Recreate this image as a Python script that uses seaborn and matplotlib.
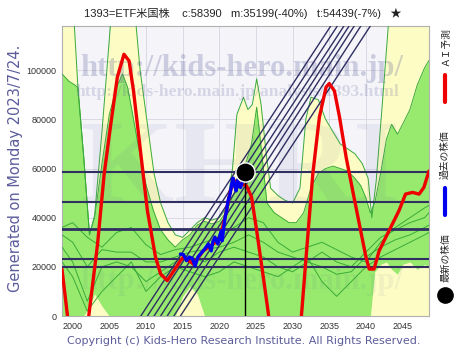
import numpy as np
import pandas as pd
import matplotlib
matplotlib.use('Agg')
import matplotlib.pyplot as plt
from matplotlib.lines import Line2D
import seaborn as sns

# ---------------- data ----------------
title_text = '1393=ETF米国株    c:58390   m:35199(-40%)   t:54439(-7%)   ★'
ylabel_text = 'Generated on Monday 2023/7/24.'
copyright_text = 'Copyright (c) Kids-Hero Research Institute. All Rights Reserved.'
legend_labels = ['ＡＩ予測', '過去の株価', '最新の株価']

x_ticks = [2000, 2005, 2010, 2015, 2020, 2025, 2030, 2035, 2040, 2045]
y_ticks = [0, 20000, 40000, 60000, 80000, 100000]

# AI forecast (red)
red_x = [1998.55, 1999.3, 2000.3, 2001.3, 2002.2, 2003.4, 2004.3, 2005.2, 2006.1, 2007.0,
         2007.7, 2008.3, 2009.25, 2010.2, 2011.3, 2012.0, 2012.9, 2013.8, 2014.7, 2015.1,
         2016.5, 2017.8, 2019.2, 2020.1, 2020.8, 2021.5, 2022.1, 2023.0, 2023.7, 2024.4,
         2025.1, 2026.0, 2026.7, 2027.6, 2029.0, 2030.3, 2031.2, 2031.84, 2032.75, 2033.65,
         2034.56, 2035.0, 2035.7, 2036.4, 2037.3, 2038.2, 2039.1, 2040.0, 2040.45, 2041.1,
         2041.8, 2042.7, 2043.6, 2044.5, 2045.4, 2046.35, 2047.25, 2047.9, 2048.6]
red_y = [19000, 0, -25000, -30000, 0, 29300, 57700, 78000, 97200, 106500,
         103800, 91600, 67200, 42800, 24000, 17100, 14400, 18400, 22500, 24000,
         21100, 26500, 29300, 32100, 40200, 50900, 55000, 53700, 53000, 48400,
         34700, 15900, 800, -25000, -40000, -25000, 0, 24000, 57700, 80900,
         93100, 94600, 91600, 80900, 64600, 50900, 37400, 24000, 19100, 19100,
         26500, 32000, 37400, 42800, 49600, 50300, 49600, 52300, 59000]

# past price (blue)
blue_x = [2014.7, 2015.1, 2015.55, 2015.9, 2016.3, 2016.7, 2017.1, 2017.5, 2017.8, 2018.2,
          2018.5, 2018.9, 2019.1, 2019.4, 2019.8, 2020.1, 2020.3, 2020.4, 2020.6, 2020.8,
          2021.0, 2021.2, 2021.5, 2021.7, 2021.9, 2022.1, 2022.3, 2022.5, 2022.7, 2022.9,
          2023.2, 2023.4, 2023.55]
blue_y = [25200, 25000, 22500, 24000, 23500, 20400, 24000, 25500, 26500, 28000,
          29300, 26500, 30000, 32100, 29300, 33000, 34700, 30600, 36000, 40200,
          43000, 46900, 50000, 53700, 56100, 53000, 50900, 55000, 53000, 52300,
          55000, 56000, 58390]

# latest price
last_x = 2023.55
last_y = 58390

# horizontal levels
h_levels = [58390, 46500, 35199, 23300, 20000]

# diagonal channel lines: year at value 0 and year at value 118000
diag_zero = [2009.3, 2010.2, 2011.1, 2012.0, 2012.9, 2013.8, 2014.7]
diag_top = [2035.2, 2036.1, 2037.0, 2037.7, 2038.4, 2039.3, 2040.6]

# yellow band (upper envelope)
yel_x = [1998.55, 2000.2, 2000.7, 2001.5, 2002.3, 2003.0, 2004.0, 2005.2, 2008.6, 2009.2,
         2010.2, 2011.1, 2012.0, 2013.0, 2014.0, 2015.0, 2016.0, 2017.0, 2018.0, 2019.0,
         2020.0, 2021.0, 2021.8, 2022.4, 2023.3, 2023.9, 2024.5, 2025.1, 2025.7, 2026.4,
         2027.0, 2028.0, 2029.0, 2030.0, 2031.0, 2031.8, 2032.5, 2033.5, 2034.5, 2035.5,
         2036.5, 2037.5, 2038.5, 2039.5, 2040.3, 2040.8, 2041.4, 2042.2, 2043.1, 2048.6]
yel_hi = [120000, 120000, 94000, 65000, 33000, 41000, 75000, 120000, 120000, 100000,
          78000, 58000, 46000, 38000, 33000, 32000, 35000, 38000, 40000, 39000,
          40000, 44000, 60000, 82000, 89000, 84000, 86000, 96500, 86000, 66000,
          52000, 49000, 47000, 46000, 52000, 80000, 89000, 88000, 80000, 75000,
          70000, 68000, 66000, 62000, 56000, 40000, 55000, 85000, 120000, 120000]

# green band (central envelope)
grn_x = [1998.55, 1999.5, 2000.3, 2000.7, 2001.5, 2002.3, 2003.0, 2004.0, 2005.0, 2006.0,
         2006.8, 2007.5, 2008.0, 2009.0, 2010.0, 2011.0, 2012.0, 2013.0, 2014.0, 2015.0,
         2016.0, 2017.0, 2018.0, 2019.0, 2020.0, 2021.0, 2022.0, 2023.0, 2023.8, 2024.4,
         2025.1, 2025.8, 2026.5, 2027.5, 2028.5, 2029.5, 2030.5, 2031.5, 2032.5, 2033.5,
         2034.5, 2035.5, 2036.5, 2037.5, 2038.5, 2039.3, 2040.0, 2040.6, 2041.2, 2042.0,
         2042.8, 2043.5, 2044.3, 2045.0, 2046.0, 2047.0, 2048.0, 2048.6]
grn_hi = [98500, 95500, 94000, 93000, 65000, 33000, 40000, 62000, 82000, 93000,
          98500, 93000, 85000, 68500, 53500, 43000, 35000, 31000, 28000, 31000,
          33000, 37000, 38500, 37500, 38500, 42500, 50000, 57000, 64000, 70000,
          85000, 66000, 46000, 42000, 40000, 38000, 38000, 42000, 52000, 58000,
          60000, 61000, 60000, 59000, 56000, 53000, 48000, 42000, 46000, 58000,
          72000, 78000, 74000, 78000, 84000, 94000, 101000, 104000]
grn_lo = [0, 0, 0, 0, 0, 4000, 9000, 4000, 0, 0,
          0, 0, 0, 0, 0, 0, 0, 0, 0, 8000,
          12000, 9000, 0, 0, 0, 0, 0, 0, 0, 0,
          0, 0, 0, 0, 0, 0, 0, 0, 0, 0,
          0, 0, 0, 0, 0, 0, 0, 0, 18000, 21000,
          22000, 19000, 17000, 21000, 22000, 19000, 21000, 20000]

# thin green scenario lines
ln_x = [1998.55, 2000, 2002, 2004, 2006, 2008, 2010, 2012, 2014, 2016, 2018, 2020, 2022, 2024,
        2026, 2028, 2030, 2032, 2034, 2036, 2038, 2040, 2042, 2044, 2046, 2048, 2048.6]
ln_1 = [36000, 38000, 32000, 28000, 34000, 36000, 29000, 25000, 27000, 28000, 30000, 32000, 36000, 40000,
        38000, 30000, 26000, 28000, 30000, 27000, 24000, 22000, 30000, 36000, 40000, 44000, 45000]
ln_2 = [33000, 30000, 20000, 27000, 26000, 26000, 22000, 22000, 24000, 26000, 27000, 28000, 30000, 33000,
        30000, 26000, 24000, 22000, 26000, 22000, 20000, 26000, 32000, 35000, 38000, 40000, 42000]
ln_3 = [28000, 22000, 6000, 20000, 22000, 20000, 14000, 18000, 22000, 24000, 22000, 26000, 28000, 26000,
        24000, 20000, 18000, 22000, 20000, 17000, 18000, 24000, 28000, 31000, 33000, 36000, 37000]
ln_4 = [22000, 16000, 2000, 10000, 16000, 22000, 10000, 16000, 20000, 18000, 16000, 18000, 22000, 20000,
        18000, 16000, 20000, 24000, 14000, 8000, 14000, 20000, 24000, 27000, 30000, 33000, 34000]

# ---------------- styling ----------------
sns.set_style('white')
plt.rcParams['font.family'] = ['Liberation Sans', 'Noto Sans CJK JP', 'DejaVu Sans']

YEL = '#fcfcc4'
GRN = '#97ea6e'
GLINE = '#3aaa3a'
NAVY = '#2f2f62'
SLATE = '#5c5c9c'
YTOP = 118000

fig = plt.figure(figsize=(4.74, 3.55), dpi=100)
ax = fig.add_axes([62 / 474, 1 - 316 / 355, 367 / 474, 290 / 355])
ax.set_facecolor('#f4f4f9')

# bands
ax.fill_between(yel_x, 0, yel_hi, color=YEL, lw=0, zorder=1)
ax.fill_between(grn_x, grn_lo, grn_hi, color=GRN, lw=0, zorder=2)
sns.lineplot(x=yel_x, y=yel_hi, color=GLINE, lw=0.7, estimator=None, ax=ax, zorder=3)
sns.lineplot(x=grn_x, y=grn_hi, color=GLINE, lw=0.7, estimator=None, ax=ax, zorder=3)

# watermark
wm = dict(transform=ax.transAxes, ha='center', va='center', family='Liberation Serif',
          fontweight='bold', color='#5a5a9a', zorder=4)
ax.text(0.49, 0.855, 'http://kids-hero.main.jp/', fontsize=22, alpha=0.26, **wm)
ax.text(0.478, 0.772, 'http://kids-hero.main.jp/analysis/1393.html', fontsize=12.6, alpha=0.2, **wm)
ax.text(0.485, 0.49, 'KHRI', fontsize=86, alpha=0.08, **wm)
ax.text(0.49, 0.12, 'http://kids-hero.main.jp/', fontsize=22, alpha=0.07, **wm)

# scenario lines
for ln in [ln_1, ln_2, ln_3, ln_4]:
    sns.lineplot(x=ln_x, y=ln, color=GLINE, lw=0.7, estimator=None, ax=ax, zorder=5)

# levels and channel
for lv in h_levels:
    ax.axhline(lv, color=NAVY, lw=2.0 if lv == 35199 else 1.5, zorder=6)
for z0, z1 in zip(diag_zero, diag_top):
    sns.lineplot(x=[z0, z1], y=[0, YTOP], color=NAVY, lw=1.0, estimator=None, ax=ax, zorder=6)

# price and forecast
sns.lineplot(x=red_x, y=red_y, color='#ee0000', lw=2.4, estimator=None, ax=ax, zorder=7)
sns.lineplot(x=blue_x, y=blue_y, color='#0000ee', lw=2.4, estimator=None, ax=ax, zorder=8)
ax.plot([last_x, last_x], [0, last_y], color='black', lw=1.0, zorder=8)
ax.scatter([last_x], [last_y], s=190, color='black', edgecolor='white', lw=1.0, zorder=9)

ax.set_xlim(1998.55, 2048.6)
ax.set_ylim(0, YTOP)
ax.set_xticks(x_ticks)
ax.set_yticks(y_ticks)
ax.set_yticklabels([str(v) for v in y_ticks])
ax.tick_params(labelsize=6.5, colors='#333333', length=0, pad=4)
ax.grid(True, color='#d6d6e0', lw=0.6)
ax.set_axisbelow(True)
for sp in ax.spines.values():
    sp.set_color('#b0b0b0')
    sp.set_linewidth(0.8)
ax.set_xlabel('')
ax.set_ylabel('')

# texts around the plot
fig.text(0.512, 0.963, title_text, ha='center', va='center', fontsize=8, color='#222222')
fig.text(0.032, 0.525, ylabel_text, rotation=90, ha='center', va='center',
         fontsize=10.5, color=SLATE, family='DejaVu Sans')
fig.text(0.514, 0.039, copyright_text, ha='center', va='center',
         fontsize=8.0, color=SLATE, family='DejaVu Sans')

# vertical legend on the right
lx = 445 / 474
fig.text(lx, 1 - 46 / 355, legend_labels[0], rotation=90, ha='center', va='center', fontsize=7)
fig.add_artist(Line2D([lx, lx], [1 - 75 / 355, 1 - 102 / 355], color='#ee0000', lw=3))
fig.text(lx, 1 - 155 / 355, legend_labels[1], rotation=90, ha='center', va='center', fontsize=7)
fig.add_artist(Line2D([lx, lx], [1 - 188 / 355, 1 - 215 / 355], color='#0000ee', lw=3))
fig.text(lx, 1 - 258 / 355, legend_labels[2], rotation=90, ha='center', va='center', fontsize=7)
fig.add_artist(Line2D([lx], [1 - 295 / 355], marker='o', ms=11, color='black'))

fig.savefig('out.png', dpi=100)
